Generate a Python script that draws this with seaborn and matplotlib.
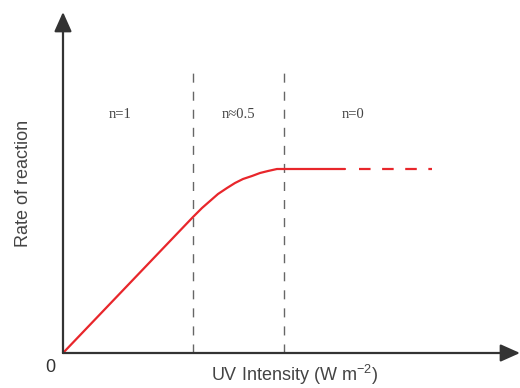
import matplotlib
matplotlib.use("Agg")
from matplotlib import pyplot as plt
import pandas as pd
import seaborn as sns

# UV intensity vs rate of reaction (arbitrary units)
intensity = [0, 130, 139, 147, 155, 164, 172, 180, 189, 197, 205, 214, 222, 282]
rate = [0, 136, 145, 152, 159, 165, 170, 174, 177, 180, 182, 184, 184, 184]
# dashed continuation of the plateau
tail_intensity = [296, 369]
tail_rate = [184, 184]
# boundaries between the reaction-order regions
boundaries = [130, 221]
region_labels = ["n=1", "n\u22480.5", "n=0"]
region_centers = [57, 175, 290]

sns.set_style("white")

curve = pd.DataFrame({"UV": intensity, "Rate": rate})
tail = pd.DataFrame({"UV": tail_intensity, "Rate": tail_rate})

fig = plt.figure(figsize=(5.2, 3.88), dpi=100)
ax = fig.add_axes([0, 0, 1, 1])
ax.set_xlim(-63, 457)
ax.set_ylim(-35, 353)
ax.axis("off")

red = "#e8262b"
axis_col = "#333333"

# region boundaries
for b in boundaries:
    ax.plot([b, b], [0, 287], color="#666666", lw=1.0, dashes=(6.5, 6.5))

sns.lineplot(data=curve, x="UV", y="Rate", color=red, lw=1.6, ax=ax)
line_tail, = ax.plot(tail["UV"], tail["Rate"], color=red, lw=1.6)
line_tail.set_dashes((5.2, 5.2))

# axes with arrow heads
arrow = dict(arrowstyle="-|>,head_length=0.85,head_width=0.38",
             color=axis_col, lw=1.6, shrinkA=0, shrinkB=0, mutation_scale=14)
ax.annotate("", xy=(457, 0), xytext=(0, 0), arrowprops=arrow)
ax.annotate("", xy=(0, 341), xytext=(0, 0), arrowprops=arrow)

for lab, xc in zip(region_labels, region_centers):
    ax.text(xc, 239, lab, ha="center", va="center", fontsize=10.5,
            family="Liberation Serif", color="#444444")

ax.text(-13, -14, "0", ha="center", va="center", fontsize=13,
        family="Liberation Sans", color="#333333")
ax.text(-40, 170, "Rate of reaction", ha="center", va="center", rotation=90,
        fontsize=13, family="Liberation Sans", color="#444444")
ax.text(231, -22, "UV Intensity (W m$\\mathregular{^{-2}}$)", ha="center",
        va="center", fontsize=13, family="Liberation Sans", color="#444444")

fig.savefig("out.png", dpi=100)
